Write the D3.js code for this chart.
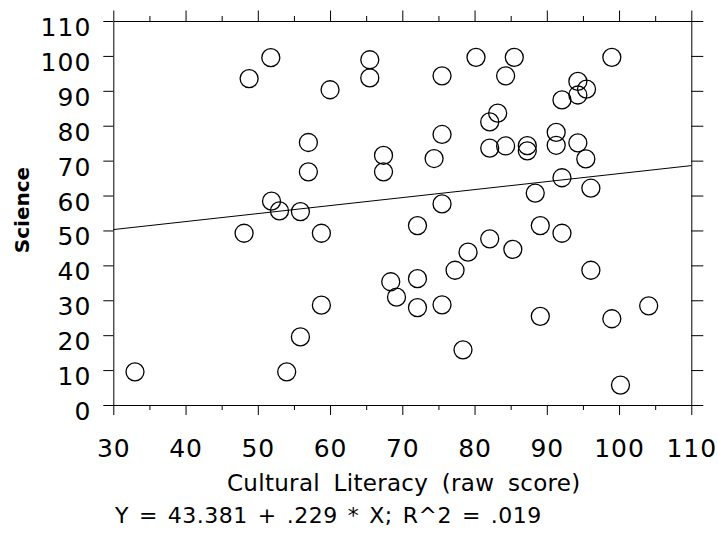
<!DOCTYPE html>
<html><head><meta charset="utf-8">
<script src="https://cdn.jsdelivr.net/npm/d3@7"></script>
<style>body{margin:0;background:#fff} svg{display:block}</style>
</head><body>
<svg id="c" width="718" height="534"></svg>
<script>
// Cultural Literacy (raw score) — x values
const cultural = [48.8,51.8,60.0,57.0,57.0,51.9,53.0,55.9,48.1,58.8,58.8,55.9,54.0,33.0,
  65.5,65.5,75.5,80.2,85.5,84.3,99.0,94.3,95.5,94.3,92.1,83.2,82.1,75.5,67.4,67.4,74.4,
  82.1,84.3,87.3,87.3,91.3,91.3,94.3,95.4,92.1,96.1,88.4,75.5,72.1,89.1,92.1,82.1,79.1,
  85.3,77.3,96.1,68.4,72.1,69.2,72.1,75.5,89.1,99.0,104.1,78.4,100.2];
// Science — y values
const science = [93.5,99.5,90.3,75.2,66.8,58.4,55.6,55.4,49.2,49.2,28.6,19.5,9.5,9.5,
  98.9,93.7,94.3,99.6,99.6,94.3,99.6,92.7,90.5,88.8,87.4,83.6,81.1,77.5,71.5,66.8,70.6,
  73.6,74.2,74.3,72.8,78.1,74.4,75.1,70.5,65.1,62.1,60.7,57.6,51.4,51.4,49.2,47.6,43.8,
  44.6,38.6,38.6,35.3,36.2,30.9,27.9,28.7,25.4,24.7,28.4,15.8,5.7];
const xTicks = [30,35,40,45,50,55,60,65,70,75,80,85,90,95,100,105,110];
const yTicks = [0,10,20,30,40,50,60,70,80,90,100,110];
const xDomain = [30, 110];
const yDomain = [0, 110];
const intercept = 43.381, slope = 0.229;
const equationText = "Y = 43.381 + .229 * X; R^2 = .019";
const xTitle = "Cultural Literacy (raw score)";
const yTitle = "Science";

const svg = d3.select("#c");
const L = 113.3, R = 691.3, T = 21, B = 405;
const x = d3.scaleLinear().domain(xDomain).range([L, R]);
const y = d3.scaleLinear().domain(yDomain).range([B, T]);
const font = "'DejaVu Sans', Verdana, sans-serif";
const isMajor = d => d % 10 === 0;

function styleAxis(g){
  g.selectAll("path.domain").attr("stroke","#000").attr("stroke-width",1);
  g.selectAll(".tick line").attr("stroke","#000").attr("stroke-width",1);
  g.selectAll("text").attr("fill","#000").style("font-family",font).style("font-size","25px");
}

// bottom
const gB = svg.append("g").attr("transform",`translate(0,${B})`)
  .call(d3.axisBottom(x).tickValues(xTicks).tickSizeInner(10).tickSizeOuter(0)
    .tickFormat(d => isMajor(d) ? d : ""));
gB.selectAll(".tick line").attr("y2", d => isMajor(d) ? 10 : 5);
gB.selectAll("text").attr("y", 52).attr("dy", 0).style("letter-spacing","1px");
styleAxis(gB);

// top
const gT = svg.append("g").attr("transform",`translate(0,${T})`)
  .call(d3.axisTop(x).tickValues(xTicks).tickSizeInner(10).tickSizeOuter(0).tickFormat(""));
gT.selectAll(".tick line").attr("y2", d => isMajor(d) ? -10.5 : -5);
styleAxis(gT);

// left
const gL = svg.append("g").attr("transform",`translate(${L},0)`)
  .call(d3.axisLeft(y).tickValues(yTicks).tickSizeInner(10).tickSizeOuter(0));
gL.selectAll("text").attr("x", -22).attr("dy", 0).attr("y", 14.5).style("letter-spacing","1px");
styleAxis(gL);

// right
const gR = svg.append("g").attr("transform",`translate(${R},0)`)
  .call(d3.axisRight(y).tickValues(yTicks).tickSizeInner(12).tickSizeOuter(0).tickFormat(""));
styleAxis(gR);

// regression line
svg.append("line")
  .attr("x1", x(xDomain[0])).attr("y1", y(intercept + slope*xDomain[0]))
  .attr("x2", x(xDomain[1])).attr("y2", y(intercept + slope*xDomain[1]))
  .attr("stroke","#000").attr("stroke-width",1);

// points
svg.append("g").selectAll("circle").data(d3.zip(cultural, science)).join("circle")
  .attr("cx", d => x(d[0])).attr("cy", d => y(d[1])).attr("r", 9)
  .attr("fill","none").attr("stroke","#000").attr("stroke-width",1.3);

// titles
svg.append("text").attr("x", 227).attr("y", 490.5)
  .style("font-family",font).style("font-size","23px")
  .style("letter-spacing","0.3px").style("word-spacing","6px")
  .text(xTitle);
svg.append("text").attr("transform",`translate(28.5,210) rotate(-90)`).attr("text-anchor","middle")
  .style("font-family",font).style("font-size","20px").style("font-weight","bold")
  .text(yTitle);
svg.append("text").attr("x", 115).attr("y", 523.3)
  .style("font-family",font).style("font-size","22px")
  .style("letter-spacing","0.5px").style("word-spacing","2.5px")
  .text(equationText);
</script>
</body></html>
